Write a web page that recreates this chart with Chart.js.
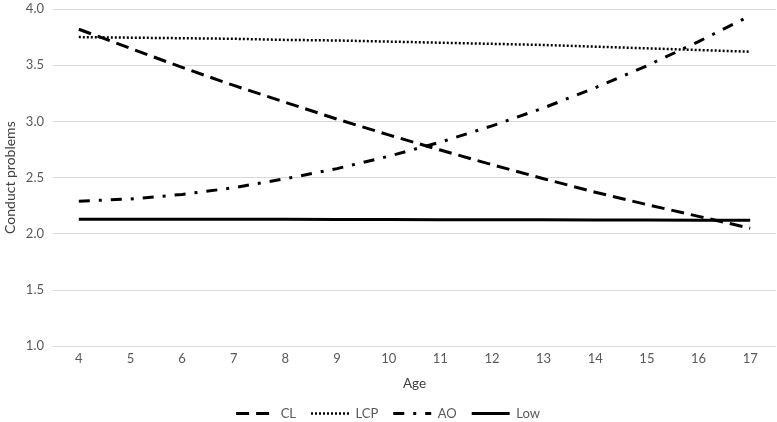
<!DOCTYPE html>
<html><head><meta charset="utf-8">
<script src="https://cdn.jsdelivr.net/npm/chart.js@4"></script>
<style>html,body{margin:0;padding:0;background:#fff;}</style>
</head><body><canvas id="c" width="777" height="422"></canvas>
<script>
const ages = ['4','5','6','7','8','9','10','11','12','13','14','15','16','17'];
const CL  = [3.82,3.65,3.48,3.32,3.17,3.02,2.88,2.745,2.615,2.49,2.37,2.26,2.155,2.05];
const LCP = [3.75,3.745,3.74,3.735,3.725,3.72,3.71,3.70,3.69,3.68,3.665,3.65,3.635,3.62];
const AO  = [2.29,2.31,2.35,2.41,2.49,2.58,2.69,2.815,2.96,3.12,3.30,3.495,3.71,3.94];
const Low = [2.13,2.13,2.13,2.13,2.13,2.128,2.127,2.126,2.125,2.124,2.123,2.122,2.121,2.12];
const yTicks = [1.0,1.5,2.0,2.5,3.0,3.5,4.0];

const FONT = 'Lato';
const mk = (label, data, dash, width, cap) => ({
  label, data, borderColor:'#000', backgroundColor:'#000', borderWidth:width,
  borderDash:dash, borderCapStyle:cap||'butt', pointRadius:0, tension:0, fill:false
});
new Chart(document.getElementById('c'), {
  type:'line',
  data:{labels:ages, datasets:[
    mk('CL', CL, [13,7], 3),
    mk('LCP', LCP, [2,2], 2.5),
    mk('AO', AO, [11,9,3,9], 3),
    mk('Low', Low, [], 3)
  ]},
  options:{
    responsive:false, animation:false, maintainAspectRatio:false,
    devicePixelRatio:1,
    layout:{padding:{top:9,right:1,left:0,bottom:-8}},
    plugins:{
      tooltip:{enabled:false},
      legend:{position:'bottom', labels:{usePointStyle:true, pointStyle:'line', pointStyleWidth:38,
        color:'#595959', font:{family:FONT,size:13}, padding:15, boxHeight:13,
        generateLabels: chart => {
          const items = Chart.defaults.plugins.legend.labels.generateLabels(chart);
          items.forEach(it => {
            const ds = chart.data.datasets[it.datasetIndex];
            it.lineDash = ds.borderDash; it.lineWidth = ds.borderWidth;
            it.strokeStyle = '#000'; it.lineCap = 'butt';
          });
          return items;
        }}}
    },
    scales:{
      x:{offset:true, grid:{display:false, drawTicks:false}, border:{display:false},
         ticks:{color:'#595959', font:{family:FONT,size:13}, padding:5, autoSkip:false, maxRotation:0},
         title:{display:true, text:'Age', color:'#404040', font:{family:FONT,size:13.5}, padding:{top:4,bottom:0}}},
      y:{min:1, max:4, grid:{color:'#d9d9d9', drawTicks:false}, border:{display:false},
         afterBuildTicks: s => { s.ticks = yTicks.map(v=>({value:v})); },
         afterFit: s => { s.width = 53; s.paddingTop = 0; s.paddingBottom = 0; },
         ticks:{color:'#595959', font:{family:FONT,size:13}, padding:9, callback:v=>Number(v).toFixed(1)},
         title:{display:true, text:'Conduct problems', color:'#404040', font:{family:FONT,size:14}, padding:{top:2,bottom:0}}}
    }
  }
});
</script></body></html>
